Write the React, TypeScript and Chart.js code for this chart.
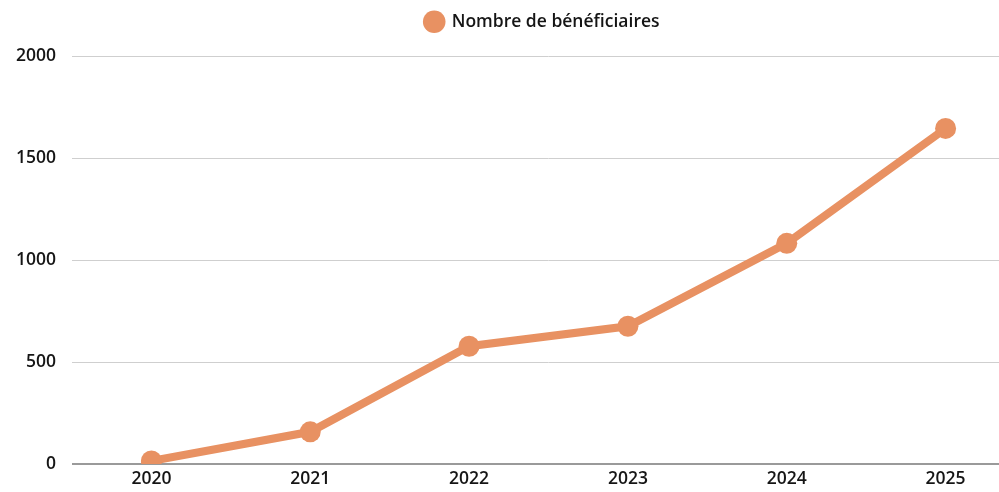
import React, { useEffect, useRef } from "react";
import { Chart, registerables } from "chart.js";

Chart.register(...registerables);

const years = ["2020", "2021", "2022", "2023", "2024", "2025"];
const beneficiaires = [15, 158, 578, 676, 1083, 1647];
const seriesLabel = "Nombre de bénéficiaires";
const yTicks = [0, 500, 1000, 1500, 2000];

const ORANGE = "#E89162";
const FONT = "'Open Sans', sans-serif";
const TEXT = "#151515";
const WEIGHT = "600";
const SIZE = 17.5;

const legendMargin = {
  id: "legendMargin",
  beforeInit(chart: any) {
    const legend = chart.legend;
    if (!legend) return;
    const orig = legend.fit;
    legend.fit = function () {
      orig.call(this);
      this.height += 16;
    };
  },
  afterLayout(chart: any) {
    const legend = chart.legend;
    if (!legend) return;
    legend.left += 30;
    legend.right += 30;
  },
};

export default function App() {
  const ref = useRef<HTMLCanvasElement | null>(null);

  useEffect(() => {
    if (!ref.current) return;
    const chart = new Chart(ref.current, {
      type: "line",
      data: {
        labels: years,
        datasets: [
          {
            label: seriesLabel,
            data: beneficiaires,
            borderColor: ORANGE,
            backgroundColor: ORANGE,
            pointBackgroundColor: ORANGE,
            pointBorderColor: ORANGE,
            pointBorderWidth: 0,
            borderWidth: 8,
            pointRadius: 10.5,
            pointHoverRadius: 10.5,
            tension: 0,
          },
        ],
      },
      options: {
        animation: false,
        responsive: false,
        maintainAspectRatio: false,
        layout: { padding: { top: 3, left: 0, right: 60, bottom: 0 } },
        plugins: {
          legend: {
            display: true,
            position: "top",
            labels: {
              usePointStyle: true,
              pointStyle: "circle",
              boxHeight: 16,
              color: TEXT,
              font: { family: FONT, size: SIZE, weight: WEIGHT },
              padding: 10,
            },
          },
          tooltip: { enabled: false },
        },
        scales: {
          x: {
            offset: true,
            grid: { display: false, drawTicks: false },
            border: { display: false },
            ticks: {
              color: TEXT,
              font: { family: FONT, size: SIZE, weight: WEIGHT },
              padding: 5,
              maxRotation: 0,
            },
            afterFit: (s: any) => {
              s.height = 28;
            },
          },
          y: {
            min: 0,
            max: 2000,
            afterBuildTicks: (s: any) => {
              s.ticks = yTicks.map((v) => ({ value: v }));
            },
            grid: {
              drawTicks: false,
              color: (c: any) => (c.tick && c.tick.value === 0 ? "#9a9a9a" : "#cfcfcf"),
              lineWidth: (c: any) => (c.tick && c.tick.value === 0 ? 2 : 1),
            },
            border: { display: false },
            ticks: {
              color: TEXT,
              font: { family: FONT, size: SIZE, weight: WEIGHT },
              padding: 16,
              callback: (v: any) => String(v),
            },
            afterFit: (s: any) => {
              s.width = 72;
            },
          },
        },
      },
      plugins: [legendMargin],
    });
    return () => chart.destroy();
  }, []);

  return (
    <div
      style={{
        position: "absolute",
        left: 0,
        top: 0,
        width: 999,
        height: 492,
        overflow: "hidden",
        background: "#fff",
      }}
    >
      <canvas ref={ref} width={1085} height={492} style={{ display: "block" }} />
    </div>
  );
}
